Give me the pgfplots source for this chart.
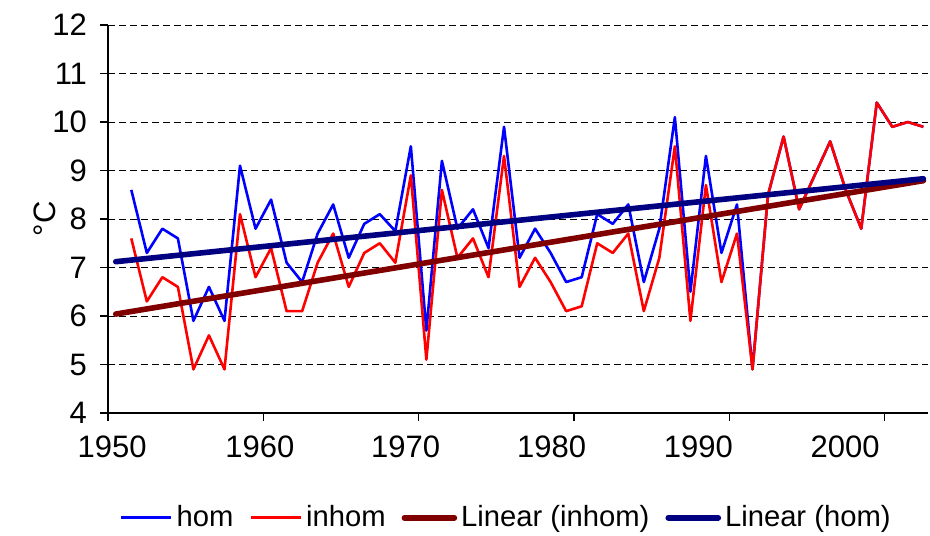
\documentclass[border=0pt]{standalone}
\usepackage{fontspec}
\setmainfont{Liberation Sans}
\usepackage{pgfplots}
\usepackage{pgfplotstable}
\pgfplotsset{compat=1.18}
\definecolor{homblue}{RGB}{0,0,255}
\definecolor{inhomred}{RGB}{255,0,0}
\definecolor{trendred}{RGB}{128,0,0}
\definecolor{trendblue}{RGB}{0,0,128}
\pgfplotstableread{
year hom inhom
1951 8.6 7.6
1952 7.3 6.3
1953 7.8 6.8
1954 7.6 6.6
1955 5.9 4.9
1956 6.6 5.6
1957 5.9 4.9
1958 9.1 8.1
1959 7.8 6.8
1960 8.4 7.4
1961 7.1 6.1
1962 6.7 6.1
1963 7.7 7.1
1964 8.3 7.7
1965 7.2 6.6
1966 7.9 7.3
1967 8.1 7.5
1968 7.75 7.1
1969 9.5 8.9
1970 5.7 5.1
1971 9.2 8.6
1972 7.8 7.2
1973 8.2 7.6
1974 7.4 6.8
1975 9.9 9.3
1976 7.2 6.6
1977 7.8 7.2
1978 7.3 6.7
1979 6.7 6.1
1980 6.8 6.2
1981 8.1 7.5
1982 7.9 7.3
1983 8.3 7.7
1984 6.7 6.1
1985 7.8 7.2
1986 10.1 9.5
1987 6.5 5.9
1988 9.3 8.7
1989 7.3 6.7
1990 8.3 7.7
1991 4.9 4.9
1992 8.5 8.5
1993 9.7 9.7
1994 8.2 8.2
1995 8.9 8.9
1996 9.6 9.6
1997 8.6 8.6
1998 7.8 7.8
1999 10.4 10.4
2000 9.9 9.9
2001 10.0 10.0
2002 9.9 9.9
}\datatable
\begin{document}
\begin{tikzpicture}[font=\fontsize{15.5}{18}\selectfont]
\useasboundingbox (-54pt,-61pt) rectangle (411pt,206.5pt);
\begin{axis}[
  at={(0,0)}, anchor=south west,
  scale only axis, width=410pt, height=194pt,
  xmin=1949.5, xmax=2002.3, ymin=4, ymax=12,
  axis lines*=left, axis line style={line width=0.7pt, -},
  clip=false,
  ytick={4,5,...,12},
  xtick={1949.5,1959.5,1969.5,1979.5,1989.5,1999.5},
  xticklabels={},
  extra x ticks={1949.76,1959.28,1968.67,1978.06,1987.51,1996.96},
  extra x tick labels={1950,1960,1970,1980,1990,2000},
  extra x tick style={major tick length=0pt, grid=none},
  tick align=outside, major tick length=4pt,
  tick style={black, line width=0.6pt},
  ymajorgrids,
  major grid style={black, line width=0.5pt, dash pattern=on 3.3pt off 2.2pt},
  /pgf/number format/assume math mode=true,
  xticklabel style={yshift=-8pt},
  yticklabel style={xshift=-3pt},
  ylabel={°C},
  ylabel style={at={(axis description cs:-0.077,0.5)}, anchor=center, rotate=0},
  legend columns=4,
  legend style={at={(axis description cs:0.487,-0.27)}, anchor=center, draw=none, fill=none,
    font=\fontsize{14.6}{17}\selectfont,
    /tikz/every even column/.append style={column sep=6pt}, inner sep=0pt,
    nodes={inner xsep=2pt}},
  legend image code/.code={\draw[#1] (0pt,0pt) -- (25pt,0pt);},
]
\addplot[homblue, line width=1.3pt, line join=round] table[x=year, y=hom] {\datatable};
\addlegendentry{hom}
\addplot[inhomred, line width=1.3pt, line join=round] table[x=year, y=inhom] {\datatable};
\addlegendentry{inhom}
\addplot[trendred, line width=2.8pt, line cap=round] coordinates {(1950,6.04) (2002,8.79)};
\addlegendentry{Linear (inhom)}
\addplot[trendblue, line width=2.8pt, line cap=round] coordinates {(1950,7.12) (2002,8.83)};
\addlegendentry{Linear (hom)}
\end{axis}
\end{tikzpicture}
\end{document}
